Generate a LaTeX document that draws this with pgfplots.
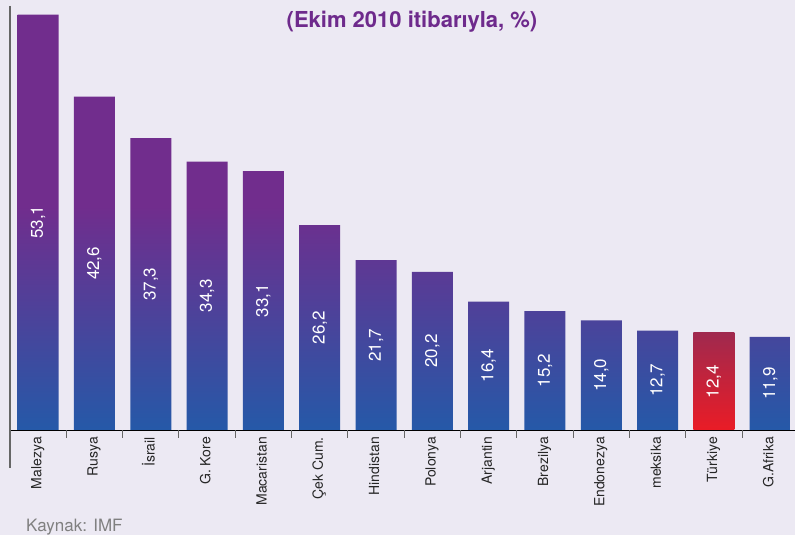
\documentclass[border=0pt]{standalone}
\usepackage{pgfplots}
\pgfplotsset{compat=1.18}
\usepackage{pgfplotstable}
\usepackage{fontspec}
\setmainfont{TeX Gyre Heros}
\definecolor{bgcol}{RGB}{236,233,243}
\definecolor{barpurple}{RGB}{113,45,141}
\definecolor{barblue}{RGB}{37,89,168}
\definecolor{redtop}{RGB}{160,41,78}
\definecolor{redbot}{RGB}{234,28,38}
\definecolor{titlecol}{RGB}{110,42,140}
\pgfdeclareverticalshading{barshade}{100bp}{color(0bp)=(barblue); color(25bp)=(barblue); color(52bp)=(barpurple); color(75bp)=(barpurple); color(100bp)=(barpurple)}
\pgfdeclareverticalshading{redshade}{100bp}{color(0bp)=(redbot); color(25bp)=(redbot); color(75bp)=(redtop); color(100bp)=(redtop)}
\pgfplotstableread{
x v
0 53.1
1 42.6
2 37.3
3 34.3
4 33.1
5 26.2
6 21.7
7 20.2
8 16.4
9 15.2
10 14.0
11 12.7
13 11.9
}\mainbars
\pgfplotstableread{
x v
12 12.4
}\turbar
\pgfplotstableread{
x v
0 53.1
1 42.6
2 37.3
3 34.3
4 33.1
5 26.2
6 21.7
7 20.2
8 16.4
9 15.2
10 14.0
11 12.7
12 12.4
13 11.9
}\allbars
\begin{document}
\begin{tikzpicture}
\fill[bgcol] (0,0) rectangle (795pt,535pt);
\begin{axis}[
  at={(10pt,105pt)}, anchor=south west,
  scale only axis, width=785pt, height=424pt,
  xmin=-0.5, xmax=13.44, ymin=0, ymax=54.2,
  axis x line*=bottom, axis y line*=left,
  x axis line style={black, line width=0.9pt, -},
  y axis line style={draw=none},
  ytick=\empty,
  xtick={0,...,13},
  xticklabels={Malezya,Rusya,İsrail,G. Kore,Macaristan,Çek Cum.,Hindistan,Polonya,Arjantin,Brezilya,Endonezya,meksika,Türkiye,G.Afrika},
  xticklabel style={rotate=90, anchor=east, font=\fontsize{14pt}{16pt}\selectfont, text=black!85, inner sep=0pt},
  xticklabel shift=7pt,
  xtick style={draw=none},
  tick label style={/pgf/number format/assume math mode=true},
  typeset ticklabels with strut=false,
  extra x ticks={0.5,1.5,2.5,3.5,4.5,5.5,6.5,7.5,8.5,9.5,10.5,11.5,12.5},
  extra x tick labels={},
  extra x tick style={tick align=outside, major tick length=8pt, xtick style={draw=black!60, line width=0.9pt}},
  clip=false,
]
\addplot[ybar, bar width=41pt, bar shift=0pt, draw=none, fill=none, shade, shading=barshade] table[x=x, y=v] {\mainbars};
\addplot[ybar, bar width=41pt, bar shift=0pt, draw=none, fill=none, shade, shading=redshade] table[x=x, y=v] {\turbar};
\addplot[draw=none, mark=none, nodes near coords, point meta=explicit,
  every node near coord/.append style={rotate=90, anchor=center, text=white, font=\fontsize{17pt}{19pt}\selectfont},
  /pgf/number format/.cd, fixed, fixed zerofill, precision=1, use comma, assume math mode=true]
  table[x=x, y expr=\thisrow{v}/2, meta=v] {\allbars};
\draw[black!60, line width=2pt] (axis description cs:0,1) -- ([yshift=-38pt]axis description cs:0,0);
\end{axis}
\node[anchor=base, text=titlecol, font=\fontsize{22pt}{24pt}\selectfont\bfseries] at (412pt,507pt) {(Ekim 2010 itibarıyla, \%)};
\node[anchor=base west, inner sep=0pt, text=black!50, font=\fontsize{17pt}{19pt}\selectfont] at (26pt,3.5pt) {Kaynak: IMF};
\pgfresetboundingbox
\path[use as bounding box] (0,0) rectangle (795pt,535pt);
\end{tikzpicture}
\end{document}
